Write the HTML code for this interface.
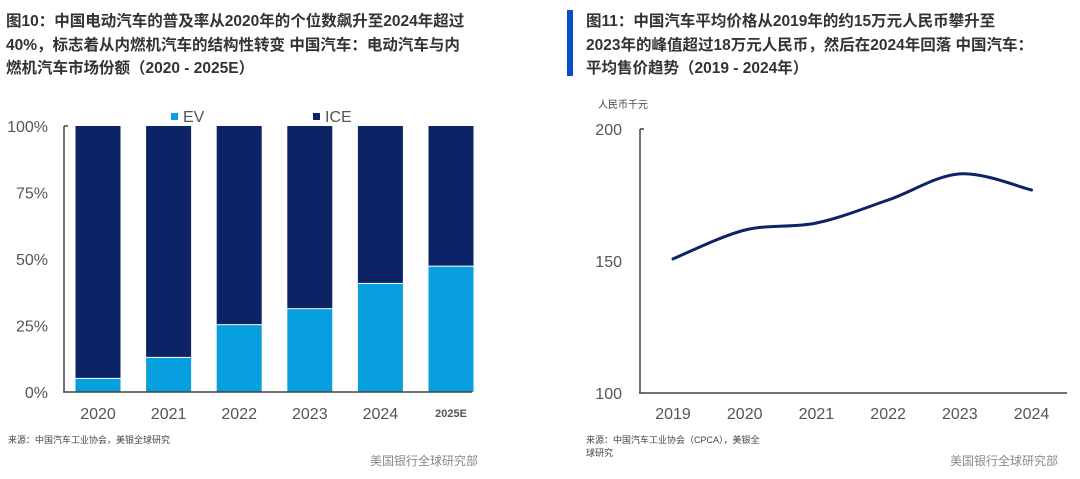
<!DOCTYPE html>
<html><head><meta charset="utf-8">
<style>
body{margin:0;width:1080px;height:479px;background:#fff;overflow:hidden;font-family:"Liberation Sans","Noto Sans CJK SC",sans-serif;}
.t{position:absolute;font-size:15.5px;line-height:23.5px;color:#333;font-weight:bold;white-space:nowrap;}
</style></head><body>
<div class="t" style="left:6px;top:10px;">图10：中国电动汽车的普及率从2020年的个位数飙升至2024年超过<br>40%，标志着从内燃机汽车的结构性转变 中国汽车：电动汽车与内<br>燃机汽车市场份额（2020 - 2025E）</div>
<div style="position:absolute;left:567px;top:10px;width:6px;height:66px;background:#0a4fc7;"></div>
<div class="t" style="left:586px;top:10px;">图11：中国汽车平均价格从2019年的约15万元人民币攀升至<br>2023年的峰值超过18万元人民币，然后在2024年回落 中国汽车：<br>平均售价趋势（2019 - 2024年）</div>
<svg width="1080" height="479" style="position:absolute;left:0;top:0" font-family="Liberation Sans, Noto Sans CJK SC, sans-serif">
<g id="left"></g>
<g id="right"></g>
<text x="8" y="443" font-size="9" fill="#444">来源：中国汽车工业协会，美银全球研究</text>
<text x="370" y="465" font-size="12" fill="#888">美国银行全球研究部</text>
<text x="586" y="443" font-size="9" fill="#444">来源：中国汽车工业协会（CPCA），美银全</text>
<text x="586" y="456" font-size="9" fill="#444">球研究</text>
<text x="950" y="465" font-size="12" fill="#888">美国银行全球研究部</text>
</svg>
<script>
const barYears=["2020","2021","2022","2023","2024","2025E"];
const evShare=[5.3,13.2,25.5,31.5,41,47.5];
const pctTicks=[0,25,50,75,100];
const priceYears=["2019","2020","2021","2022","2023","2024"];
const priceVals=[150.8,161.7,164.4,173.1,183.0,176.9];
const priceTicks=[100,150,200];
const NS="http://www.w3.org/2000/svg";
function mk(p,t,a,txt){const e=document.createElementNS(NS,t);for(const k in a)e.setAttribute(k,a[k]);if(txt!=null)e.textContent=txt;p.appendChild(e);return e;}
// left
const L=document.getElementById('left');
const ly=v=>392-v/100*266, lx=i=>98+i*70.6;
mk(L,'line',{x1:64,y1:126,x2:64,y2:392,stroke:'#444','stroke-width':1.5});
mk(L,'line',{x1:64,y1:126,x2:68,y2:126,stroke:'#444','stroke-width':1.5});
pctTicks.forEach(t=>{const e=mk(L,'text',{x:48,y:ly(t)+6,'font-size':16,fill:'#555','text-anchor':'end'},t+'%');

});
barYears.forEach((y,i)=>{const v=evShare[i];
const ice=mk(L,'rect',{x:lx(i)-22.5,y:ly(100),width:45,height:ly(v)-ly(100),fill:'#0c2366'});


const ev=mk(L,'rect',{x:lx(i)-22.5,y:ly(v)+1,width:45,height:ly(0)-ly(v)-1,fill:'#079fdd'});


const last=i==barYears.length-1;
const t=mk(L,'text',{x:lx(i),y:last?417:419,'font-size':last?11:16,'font-weight':last?'bold':'normal',fill:'#555','text-anchor':'middle'},y);

});
mk(L,'line',{x1:63,y1:392,x2:472,y2:392,stroke:'#444','stroke-width':1.5});
const lg=mk(L,'g',{});


mk(lg,'rect',{x:171,y:113,width:7,height:7,fill:'#079fdd'});
mk(lg,'text',{x:183,y:122,'font-size':16,fill:'#555'},'EV');
mk(lg,'rect',{x:313,y:113,width:7,height:7,fill:'#0c2366'});
mk(lg,'text',{x:325,y:122,'font-size':16,fill:'#555'},'ICE');
// right
const R=document.getElementById('right');
const ry=v=>393-(v-100)/100*264, rx=i=>673+i*71.7;
mk(R,'text',{x:598,y:108,'font-size':10,fill:'#444'},'人民币千元');
mk(R,'line',{x1:640,y1:129,x2:640,y2:393,stroke:'#444','stroke-width':1.5});
mk(R,'line',{x1:640,y1:129,x2:644,y2:129,stroke:'#444','stroke-width':1.5});
mk(R,'line',{x1:639,y1:393,x2:1067,y2:393,stroke:'#444','stroke-width':1.5});
priceTicks.forEach(t=>{const e=mk(R,'text',{x:622,y:ry(t)+6,'font-size':16,fill:'#555','text-anchor':'end'},t);

});
priceYears.forEach((y,i)=>{const e=mk(R,'text',{x:rx(i),y:419,'font-size':16,fill:'#555','text-anchor':'middle'},y);

});
const P=priceVals.map((v,i)=>[rx(i),ry(v)]);
let d='M'+P[0][0]+','+P[0][1];
for(let i=0;i<P.length-1;i++){const p0=P[Math.max(0,i-1)],p1=P[i],p2=P[i+1],p3=P[Math.min(P.length-1,i+2)];
d+=` C${p1[0]+(p2[0]-p0[0])/6},${p1[1]+(p2[1]-p0[1])/6} ${p2[0]-(p3[0]-p1[0])/6},${p2[1]-(p3[1]-p1[1])/6} ${p2[0]},${p2[1]}`;}
const line=mk(R,'path',{d:d,fill:'none',stroke:'#0c2366','stroke-width':3,'stroke-linecap':'round'});


</script>
</body></html>
